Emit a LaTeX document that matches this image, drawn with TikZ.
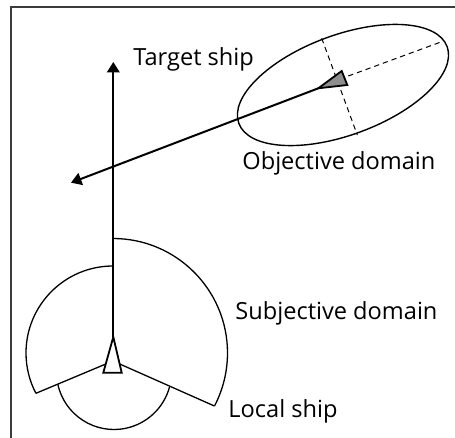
\documentclass[tikz,border=0pt]{standalone}
\usepackage{fontspec}
\setmainfont{Open Sans}
\usepackage{tikz}
\usetikzlibrary{arrows.meta,positioning,calc}
\definecolor{frameGray}{HTML}{3C3C3C}
\definecolor{shipGray}{HTML}{8E8E8E}
\tikzset{
  heading/.style={line width=1pt, -{Triangle[length=5.2pt,width=6.3pt]}},
  domainline/.style={line width=0.65pt},
  axisline/.style={line width=0.5pt, dash pattern=on 2.6pt off 2pt},
  shipmark/.style={line width=0.9pt, line join=miter},
  tag/.style={font=\fontsize{11.8}{14}\selectfont, inner sep=0pt, anchor=west}
}

\begin{document}
\begin{tikzpicture}[x=0.5pt, y=-0.5pt]
        \useasboundingbox (0,0) rectangle (455,438);
        % Frame (cut off at right and bottom)
        \draw[frameGray, line width=0.6pt] (455,7) -- (11,7) -- (11,438);

        % Subjective domain round the local ship
        \coordinate (own) at (113,353);
        \coordinate (pivot) at (113,361);
        \coordinate (base) at (114,372);
        \draw[domainline] (113,238.5) arc[start angle=-90, end angle=27.6, radius=114.5] coordinate (rightEnd);
        \draw[domainline] (113,266) arc[start angle=-90, end angle=-207.6, radius=87] coordinate (leftEnd);
        \draw[domainline] (rightEnd) -- (pivot) -- (leftEnd);
        \draw[domainline] ($(base)+(167.8:57.5)$) arc[start angle=167.8, end angle=15.1, radius=57.5];

        % Objective domain round the target ship
        \coordinate (target) at (343,85);
        \draw[line width=0.7pt, rotate around={20.2:(target)}] (target) ellipse [x radius=55.5pt, y radius=25pt];
        \coordinate (majorA) at (348.3,76);
        \coordinate (majorB) at (441.7,41.7);
        \coordinate (minorA) at (321.7,38.3);
        \coordinate (minorB) at (357.3,135);
        \draw[axisline] (majorA) -- (majorB);
        \draw[axisline] (minorA) -- (minorB);

        % Headings
        \coordinate (localTip) at (113.3,337);
        \coordinate (localHead) at (113.3,62);
        \coordinate (targetTip) at (318.3,88.3);
        \coordinate (targetHead) at (71,182.7);
        \draw[heading] (localTip) -- (localHead);
        \draw[heading] (targetTip) -- (targetHead);

        % Ships
        \filldraw[shipmark, fill=white] (localTip) -- (103.3,372.7) -- (121.7,372.7) -- cycle;
        \filldraw[shipmark, fill=shipGray] (targetTip) -- (341.7,71) -- (347.3,85) -- cycle;

        % Labels
        \node[tag] (targetLabel) at (133,59) {Target ship};
        \node[tag] (objLabel) at (242,163) {Objective domain};
        \node[tag] (subjLabel) at (235,313) {Subjective domain};
        \node[tag] (localLabel) at (228,411) {Local ship};
    \end{tikzpicture}
\end{document}
